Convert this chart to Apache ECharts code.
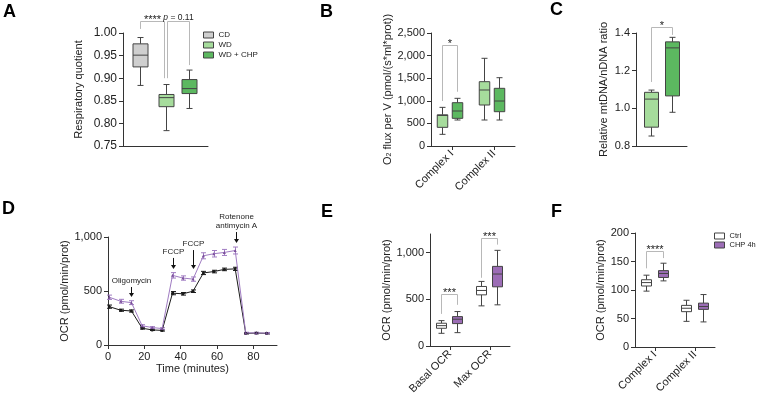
<!DOCTYPE html>
<html>
<head>
<meta charset="utf-8">
<script src="https://cdn.jsdelivr.net/npm/echarts@6/dist/echarts.min.js"></script>
<style>html,body{margin:0;padding:0;background:#fff}#main{width:757px;height:400px}</style>
</head>
<body>
<div id="main"></div>
<script>
var myChart = echarts.init(document.getElementById('main'));

var FONT = '"Liberation Sans", Arial, sans-serif';
var INK = '#222';
var AXIS = '#333';
var BORDER = '#444';
var BRACKET = '#b8b8b8';

// box values are [low whisker, q1, median, q3, high whisker]

// A - respiratory quotient
var groupsA = ['CD', 'WD', 'WD + CHP'];
var rqCD = [0.884, 0.925, 0.951, 0.976, 0.990];
var rqWD = [0.784, 0.837, 0.857, 0.864, 0.886];
var rqWDCHP = [0.833, 0.866, 0.877, 0.897, 0.918];
// [left cat, right cat, top, left leg end, right leg end]
var sigA1 = [[0, 1, 1.0265, 1.009, 0.900]];
var sigA2 = [[1, 2, 1.0265, 0.900, 0.929]];
var sigTextA1 = ['****'];
var sigTextA2 = ['{i|p} = 0.11'];

// B - O2 flux per complex
var complexes = ['Complex I', 'Complex II'];
var fluxWD = [[258, 413, 675, 690, 855], [575, 907, 1239, 1423, 1940]];
var fluxWDCHP = [[575, 612, 774, 958, 1055], [575, 759, 995, 1276, 1511]];
var sigB = [[0, 0, 2235, 995, 1200]];
var sigTextB = ['*'];

// C - mtDNA/nDNA
var mtWD = [[0.853, 0.900, 1.049, 1.085, 1.097]];
var mtWDCHP = [[0.979, 1.066, 1.321, 1.353, 1.377]];
var sigC = [[0, 0, 1.432, 1.14, 1.39]];
var sigTextC = ['*'];

// D - seahorse trace
var timeMin = [0.7, 7, 12.9, 18.8, 24.3, 29.8, 35.5, 41.2, 46.8, 52.5, 58.2, 64, 70, 75.8, 81.6, 87.3];
var ocrCtrl = [355, 322, 315, 155, 140, 135, 480, 474, 498, 667, 680, 700, 705, 108, 110, 108];
var semCtrl = [15, 10, 10, 8, 6, 6, 15, 12, 12, 15, 12, 12, 15, 6, 6, 6];
var ocrCHP = [442, 405, 392, 178, 162, 152, 645, 620, 610, 826, 845, 857, 875, 112, 112, 110];
var semCHP = [20, 18, 18, 10, 8, 8, 25, 20, 20, 28, 30, 28, 32, 6, 6, 6];
var timeTicks = [0, 20, 40, 60, 80];
// injections: [time, arrow tip, arrow tail]
var injections = [[12.9, 444, 537], [35.7, 704, 806], [47, 704, 879], [70.3, 944, 1046]];
var injectionText = ['Oligomycin', 'FCCP', 'FCCP', 'Rotenone\nantimycin A'];

// E - basal / max OCR
var ocrGroups = ['Basal OCR', 'Max OCR'];
var ocrBoxCtrl = [[136, 190, 218, 244, 272], [430, 548, 595, 638, 692]];
var ocrBoxCHP = [[143, 240, 287, 315, 369], [441, 634, 771, 853, 1025]];
var ocrTicksE = [0, 500, 1000];
var sigE = [[0, 0, 559, 344, 441], [1, 1, 1161, 731, 1086]];
var sigTextE = ['***', '***'];

// F - complex OCR
var compCtrl = [[98, 107, 113, 118, 126], [45, 62, 68, 73, 82]];
var compCHP = [[116, 122, 129, 134, 147], [44, 66, 71, 77, 92]];
var sigF = [[0, 0, 169, 138, 156]];
var sigTextF = ['****'];

function thousands(v) { return String(v).replace(/\B(?=(\d{3})+(?!\d))/g, ','); }

function boxItem(offset, width, fill) {
    return function (params, api) {
        var c = api.value(0);
        var y = [1, 2, 3, 4, 5].map(function (d) { return api.coord([c, api.value(d)])[1]; });
        var x = Math.round(api.coord([c, 0])[0] + offset) + 0.5;
        var hw = width / 2, cap = 3;
        function ln(x1, y1, x2, y2) {
            return { type: 'line', shape: { x1: x1, y1: y1, x2: x2, y2: y2 }, style: { stroke: BORDER, lineWidth: 1 } };
        }
        return {
            type: 'group',
            children: [
                ln(x, y[4], x, y[3]), ln(x, y[1], x, y[0]),
                ln(x - cap, y[4], x + cap, y[4]), ln(x - cap, y[0], x + cap, y[0]),
                { type: 'rect', shape: { x: x - hw, y: y[3], width: width, height: y[1] - y[3] }, style: { fill: fill, stroke: BORDER, lineWidth: 1 } },
                ln(x - hw, y[2], x + hw, y[2])
            ]
        };
    };
}

function boxSeries(name, grid, boxes, firstCat, offset, width, fill) {
    return {
        type: 'custom', name: name, xAxisIndex: grid, yAxisIndex: grid, silent: true,
        itemStyle: { color: fill, borderColor: BORDER, borderWidth: 1 },
        encode: { x: 0, y: [1, 2, 3, 4, 5] },
        data: boxes.map(function (b, i) { return [firstCat + i].concat(b); }),
        renderItem: boxItem(offset, width, fill)
    };
}

function sigSeries(grid, items, labels, offL, offR, fontSize, dy) {
    return {
        type: 'custom', xAxisIndex: grid, yAxisIndex: grid, silent: true,
        encode: { x: 0, y: 2 },
        data: items,
        renderItem: function (params, api) {
            var top = api.coord([api.value(0), api.value(2)]);
            var pL = api.coord([api.value(0), api.value(3)]);
            var pR = api.coord([api.value(1), api.value(4)]);
            var xl = Math.round(pL[0] + offL) + 0.5, xr = Math.round(pR[0] + offR) + 0.5;
            var yt = Math.round(top[1]) + 0.5;
            return {
                type: 'group',
                children: [
                    { type: 'polyline', shape: { points: [[xl, pL[1]], [xl, yt], [xr, yt], [xr, pR[1]]] }, style: { stroke: BRACKET, fill: null, lineWidth: 1 } },
                    {
                        type: 'text', x: (xl + xr) / 2, y: yt + dy,
                        style: {
                            text: labels[params.dataIndex], fontFamily: FONT, fontSize: fontSize, fill: INK,
                            align: 'center', verticalAlign: 'middle',
                            rich: { i: { fontStyle: 'italic', fontFamily: FONT, fontSize: fontSize, fill: INK } }
                        }
                    }
                ]
            };
        }
    };
}

function errSeries(name, values, sems, color) {
    return {
        type: 'custom', name: name, xAxisIndex: 3, yAxisIndex: 3, silent: true, z: 3,
        encode: { x: 0, y: 1 },
        data: timeMin.map(function (t, i) { return [t, values[i], sems[i]]; }),
        renderItem: function (params, api) {
            var lo = api.coord([api.value(0), api.value(1) - api.value(2)]);
            var hi = api.coord([api.value(0), api.value(1) + api.value(2)]);
            var x = Math.round(lo[0]) + 0.5;
            var s = { stroke: color, lineWidth: 1 };
            return {
                type: 'group',
                children: [
                    { type: 'line', shape: { x1: x, y1: lo[1], x2: x, y2: hi[1] }, style: s },
                    { type: 'line', shape: { x1: x - 2.5, y1: lo[1], x2: x + 2.5, y2: lo[1] }, style: s },
                    { type: 'line', shape: { x1: x - 2.5, y1: hi[1], x2: x + 2.5, y2: hi[1] }, style: s }
                ]
            };
        }
    };
}

function yAxis(grid, min, max, interval, name, gap, labelSize, fmt, custom) {
    var ax = {
        gridIndex: grid, type: 'value', min: min, max: max, interval: interval,
        name: name, nameLocation: 'middle', nameRotate: 90, nameGap: gap,
        nameTextStyle: { fontFamily: FONT, fontSize: 11, color: INK },
        axisLine: { show: true, lineStyle: { color: AXIS, width: 1 } },
        axisTick: { show: true, length: 4, lineStyle: { color: AXIS } },
        axisLabel: { fontFamily: FONT, fontSize: labelSize, color: INK, margin: 6, formatter: fmt },
        splitLine: { show: false }
    };
    if (custom) {
        ax.axisTick.customValues = custom;
        ax.axisLabel.customValues = custom;
    }
    return ax;
}

function catAxis(grid, cats, showLabels) {
    return {
        gridIndex: grid, type: 'category', data: cats,
        axisLine: { show: true, lineStyle: { color: AXIS, width: 1 } },
        axisTick: { show: showLabels, alignWithLabel: true, length: 4, lineStyle: { color: AXIS } },
        axisLabel: { show: showLabels, rotate: 45, interval: 0, fontFamily: FONT, fontSize: 11, color: INK, margin: 6 },
        splitLine: { show: false }
    };
}

var GREY = '#cfcfcf', LIGHT = '#a6dc9c', DARK = '#5cb860', WHITE = '#ffffff', PURPLE = '#9c6db6';
var letter = { fontFamily: FONT, fontSize: 18, fontWeight: 'bold', color: '#000' };

var option = {
    animation: false,
    backgroundColor: '#fff',
    title: [
        { text: 'A', left: 3, top: 3, padding: 0, textStyle: letter },
        { text: 'B', left: 320, top: 3, padding: 0, textStyle: letter },
        { text: 'C', left: 550, top: 1, padding: 0, textStyle: letter },
        { text: 'D', left: 2, top: 200, padding: 0, textStyle: letter },
        { text: 'E', left: 321, top: 203, padding: 0, textStyle: letter },
        { text: 'F', left: 551, top: 203, padding: 0, textStyle: letter }
    ],
    legend: [
        {
            data: groupsA, orient: 'vertical', left: 203, top: 31, padding: 0, itemGap: 2,
            itemWidth: 10, itemHeight: 6, icon: 'rect', selectedMode: false,
            textStyle: { fontFamily: FONT, fontSize: 8, color: INK },
            itemStyle: { borderColor: BORDER, borderWidth: 1 }
        },
        {
            data: ['Ctrl', 'CHP 4h'], orient: 'vertical', left: 714, top: 232, padding: 0, itemGap: 1,
            itemWidth: 10, itemHeight: 6, icon: 'rect', selectedMode: false,
            textStyle: { fontFamily: FONT, fontSize: 7.5, color: INK },
            itemStyle: { borderColor: BORDER, borderWidth: 1 }
        }
    ],
    grid: [
        { left: 123, top: 33, width: 85, height: 113, outerBoundsMode: 'none' },
        { left: 431, top: 33, width: 84, height: 113, outerBoundsMode: 'none' },
        { left: 636, top: 33, width: 51, height: 113, outerBoundsMode: 'none' },
        { left: 108, top: 237, width: 169, height: 108, outerBoundsMode: 'none' },
        { left: 430, top: 234, width: 80, height: 112, outerBoundsMode: 'none' },
        { left: 635, top: 233, width: 80, height: 114, outerBoundsMode: 'none' }
    ],
    xAxis: [
        catAxis(0, groupsA, false),
        catAxis(1, complexes, true),
        catAxis(2, ['mtDNA'], false),
        {
            gridIndex: 3, type: 'value', min: 0, max: 93,
            name: 'Time (minutes)', nameLocation: 'middle', nameGap: 18,
            nameTextStyle: { fontFamily: FONT, fontSize: 11, color: INK },
            axisLine: { show: true, lineStyle: { color: AXIS, width: 1 } },
            axisTick: { show: true, length: 4, lineStyle: { color: AXIS }, customValues: timeTicks },
            axisLabel: { fontFamily: FONT, fontSize: 11, color: INK, margin: 6, customValues: timeTicks },
            splitLine: { show: false }
        },
        catAxis(4, ocrGroups, true),
        catAxis(5, complexes, true)
    ],
    yAxis: [
        yAxis(0, 0.75, 1.0, 0.05, 'Respiratory quotient', 39, 12, function (v) { return v.toFixed(2); }),
        yAxis(1, 0, 2500, 500, 'O{sub|2} flux per V (pmol/(s*ml*prot))', 38, 11, thousands),
        yAxis(2, 0.8, 1.4, 0.2, 'Relative mtDNA/nDNA ratio', 27, 11, function (v) { return v.toFixed(1); }),
        yAxis(3, 0, 1000, 500, 'OCR (pmol/min/prot)', 37, 11, thousands),
        yAxis(4, 0, 1200, null, 'OCR (pmol/min/prot)', 37, 11, thousands, ocrTicksE),
        yAxis(5, 0, 200, 50, 'OCR (pmol/min/prot)', 29, 11, thousands)
    ],
    series: [
        // A
        boxSeries('CD', 0, [rqCD], 0, 3, 15, GREY),
        boxSeries('WD', 0, [rqWD], 1, 0, 15, LIGHT),
        boxSeries('WD + CHP', 0, [rqWDCHP], 2, -5, 15, DARK),
        sigSeries(0, sigA1, sigTextA1, 3, -1.5, 11, -1.5),
        sigSeries(0, sigA2, sigTextA2, 1.5, -5, 8.5, -4),
        // B
        boxSeries('WD', 1, fluxWD, 0, -10, 10.5, LIGHT),
        boxSeries('WD + CHP', 1, fluxWDCHP, 0, 5, 10.5, DARK),
        sigSeries(1, sigB, sigTextB, -10, 5, 11, -2),
        // C
        boxSeries('WD', 2, mtWD, 0, -11, 14, LIGHT),
        boxSeries('WD + CHP', 2, mtWDCHP, 0, 10.5, 14, DARK),
        sigSeries(2, sigC, sigTextC, -11, 10.5, 11, -2),
        // D
        {
            type: 'line', name: 'Ctrl trace', xAxisIndex: 3, yAxisIndex: 3, silent: true, z: 4,
            data: timeMin.map(function (t, i) { return [t, ocrCtrl[i]]; }),
            symbol: 'circle', symbolSize: 3,
            lineStyle: { color: '#1a1a1a', width: 1 }, itemStyle: { color: '#1a1a1a' }
        },
        {
            type: 'line', name: 'CHP trace', xAxisIndex: 3, yAxisIndex: 3, silent: true, z: 4,
            data: timeMin.map(function (t, i) { return [t, ocrCHP[i]]; }),
            symbol: 'triangle', symbolSize: 3,
            lineStyle: { color: '#a07cc2', width: 1 }, itemStyle: { color: '#7a4f9a' }
        },
        errSeries('Ctrl sem', ocrCtrl, semCtrl, '#1a1a1a'),
        errSeries('CHP sem', ocrCHP, semCHP, '#a07cc2'),
        {
            type: 'custom', xAxisIndex: 3, yAxisIndex: 3, silent: true, clip: false,
            encode: { x: 0, y: 1 },
            data: injections,
            renderItem: function (params, api) {
                var tip = api.coord([api.value(0), api.value(1)]);
                var tail = api.coord([api.value(0), api.value(2)]);
                var x = Math.round(tip[0]) + 0.5;
                return {
                    type: 'group',
                    children: [
                        { type: 'line', shape: { x1: x, y1: tail[1], x2: x, y2: tip[1] - 3 }, style: { stroke: '#111', lineWidth: 1 } },
                        { type: 'polygon', shape: { points: [[x - 2.5, tip[1] - 4], [x + 2.5, tip[1] - 4], [x, tip[1]]] }, style: { fill: '#111' } },
                        {
                            type: 'text', x: x, y: tail[1] - 2,
                            style: { text: injectionText[params.dataIndex], fontFamily: FONT, fontSize: 8, lineHeight: 9, fill: INK, align: 'center', verticalAlign: 'bottom' }
                        }
                    ]
                };
            }
        },
        // E
        boxSeries('Ctrl', 4, ocrBoxCtrl, 0, -9, 10, WHITE),
        boxSeries('CHP 4h', 4, ocrBoxCHP, 0, 7, 10, PURPLE),
        sigSeries(4, sigE, sigTextE, -9, 7, 11, -2),
        // F
        boxSeries('Ctrl', 5, compCtrl, 0, -9, 10, WHITE),
        boxSeries('CHP 4h', 5, compCHP, 0, 8, 10, PURPLE),
        sigSeries(5, sigF, sigTextF, -9, 8, 11, -2)
    ]
};

option.yAxis[1].nameTextStyle.rich = {
    sub: { fontFamily: FONT, fontSize: 7, color: INK, verticalAlign: 'bottom', padding: [4, 0, 0, 0] }
};

myChart.setOption(option);
</script>
</body>
</html>
